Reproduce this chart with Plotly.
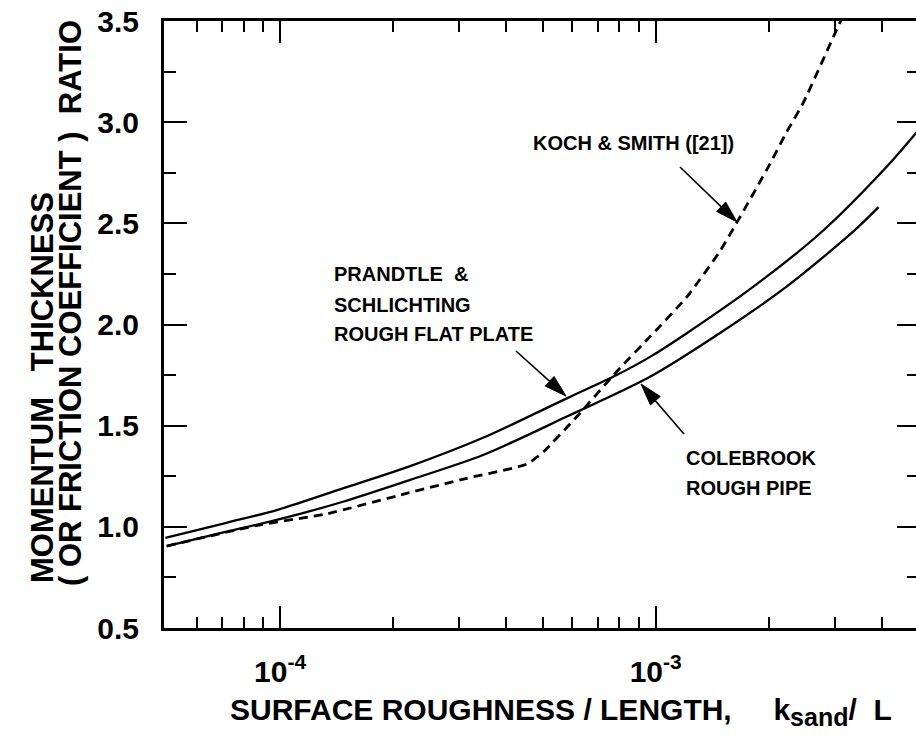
import math
import plotly.graph_objects as go

# ---------------- data ----------------
ps_x = [4.95e-5, 7.2e-5, 9.8e-5, 1.47e-4, 2.22e-4, 3.47e-4, 5.8e-4, 7.87e-4,
        9.66e-4, 1.21e-3, 1.82e-3, 2.74e-3, 4.12e-3, 5.0e-3]
ps_y = [0.945, 1.02, 1.083, 1.19, 1.30, 1.44, 1.635, 1.75,
        1.84, 1.957, 2.187, 2.451, 2.78, 2.96]

cb_x = [4.99e-5, 7.2e-5, 9.8e-5, 1.47e-4, 2.22e-4, 3.47e-4, 5.8e-4, 9.66e-4,
        1.48e-3, 2.23e-3, 3.36e-3, 3.92e-3]
cb_y = [0.905, 0.976, 1.034, 1.124, 1.232, 1.355, 1.545, 1.742,
        1.957, 2.187, 2.46, 2.58]

ks_x = [4.99e-5, 8.85e-5, 1.33e-4, 2.17e-4, 3.14e-4, 4.54e-4, 5.03e-4, 6.17e-4,
        7.87e-4, 9.66e-4, 1.21e-3, 1.48e-3, 1.64e-3, 2.01e-3, 2.23e-3, 2.47e-3,
        3.03e-3, 3.29e-3]
ks_y = [0.905, 1.01, 1.064, 1.165, 1.24, 1.31, 1.372, 1.545,
        1.767, 1.94, 2.136, 2.36, 2.50, 2.79, 2.95, 3.095,
        3.456, 3.6]

x_major = [1e-4, 1e-3]
x_major_text = ["10<sup>-4</sup>", "10<sup>-3</sup>"]
x_minor = [6e-5, 7e-5, 8e-5, 9e-5,
           2e-4, 3e-4, 4e-4, 5e-4, 6e-4, 7e-4, 8e-4, 9e-4,
           2e-3, 3e-3, 4e-3]
y_major = [0.5, 1.0, 1.5, 2.0, 2.5, 3.0, 3.5]
y_major_text = ["0.5", "1.0", "1.5", "2.0", "2.5", "3.0", "3.5"]
y_minor = [0.75, 1.25, 1.75, 2.25, 2.75, 3.25]

# ---------------- layout geometry ----------------
W, H = 916, 736
L_, R_, T_, B_ = 164, 916, 21, 628
FONT = "Liberation Sans, Arial, Helvetica, sans-serif"


def px(xp):
    return (xp - L_) / (R_ - L_)


def py(yp):
    return (B_ - yp) / (B_ - T_)


fig = go.Figure()
fig.add_trace(go.Scatter(x=ps_x, y=ps_y, mode="lines", line=dict(color="black", width=2.3, shape="spline", smoothing=0.8),
                         name="Prandtle & Schlichting", hoverinfo="skip"))
fig.add_trace(go.Scatter(x=cb_x, y=cb_y, mode="lines", line=dict(color="black", width=2.3, shape="spline", smoothing=0.8),
                         name="Colebrook", hoverinfo="skip"))
fig.add_trace(go.Scatter(x=ks_x, y=ks_y, mode="lines", line=dict(color="black", width=2.8, dash="9px,6px", shape="spline", smoothing=0.5),
                         name="Koch & Smith", hoverinfo="skip"))
# helper trace so the right-hand tick axis is drawn
fig.add_trace(go.Scatter(x=cb_x, y=cb_y, yaxis="y2", mode="lines", line=dict(width=0), opacity=0,
                         hoverinfo="skip", showlegend=False))

tickfont = dict(family=FONT, size=30, color="black", weight="bold")

fig.update_layout(
    width=W, height=H,
    margin=dict(l=L_, r=W - R_, t=T_, b=H - B_),
    plot_bgcolor="white", paper_bgcolor="white",
    showlegend=False,
    xaxis=dict(
        type="log", range=[-4.309, -2.307],
        showline=True, linewidth=3, linecolor="black", mirror="ticks",
        ticks="inside", ticklen=22, tickwidth=2, tickcolor="black",
        tickmode="array", tickvals=x_major, ticktext=x_major_text,
        tickfont=tickfont, ticklabelstandoff=15,
        showgrid=False, zeroline=False,
        minor=dict(tickmode="array", tickvals=x_minor, ticks="inside", ticklen=11,
                   tickwidth=2, tickcolor="black", showgrid=False),
    ),
    yaxis=dict(
        range=[0.5, 3.5],
        showline=True, linewidth=3, linecolor="black",
        ticks="inside", ticklen=23, tickwidth=2, tickcolor="black",
        tickmode="array", tickvals=y_major, ticktext=y_major_text,
        tickfont=tickfont, ticklabelstandoff=16,
        showgrid=False, zeroline=False,
        minor=dict(tickmode="array", tickvals=y_minor, ticks="inside", ticklen=12,
                   tickwidth=2, tickcolor="black", showgrid=False),
    ),
    yaxis2=dict(
        range=[0.5, 3.5], overlaying="y", side="right",
        showline=False, showticklabels=False,
        ticks="inside", ticklen=19, tickwidth=2, tickcolor="black",
        tickmode="array", tickvals=y_major,
        showgrid=False, zeroline=False,
        minor=dict(tickmode="array", tickvals=y_minor, ticks="inside", ticklen=9,
                   tickwidth=2, tickcolor="black", showgrid=False),
    ),
)

lab = dict(family=FONT, size=20, color="black", weight="bold")
anns = []
shapes = []


def text(x, y, s, font=lab, **kw):
    d = dict(x=px(x), y=py(y), xref="paper", yref="paper", text=s, showarrow=False,
             xanchor="left", yanchor="middle", font=font)
    d.update(kw)
    anns.append(d)


def arrow(tipx, tipy, tailx, taily, hl=22, hw=6.5):
    dx, dy = tipx - tailx, tipy - taily
    n = math.hypot(dx, dy)
    ux, uy = dx / n, dy / n
    bx, by = tipx - ux * hl, tipy - uy * hl
    nx, ny = -uy, ux
    shapes.append(dict(type="line", xref="paper", yref="paper",
                       x0=px(tailx), y0=py(taily), x1=px(bx + ux * 2), y1=py(by + uy * 2),
                       line=dict(color="black", width=1.6)))
    path = "M {:.5f},{:.5f} L {:.5f},{:.5f} L {:.5f},{:.5f} Z".format(
        px(tipx), py(tipy),
        px(bx + nx * hw), py(by + ny * hw),
        px(bx - nx * hw), py(by - ny * hw))
    shapes.append(dict(type="path", xref="paper", yref="paper", path=path,
                       fillcolor="black", line=dict(color="black", width=1)))


text(531, 143, "KOCH &amp; SMITH ([21])")
text(332, 274, "PRANDTLE  &amp;")
text(332, 305, "SCHLICHTING")
text(332, 334, "ROUGH FLAT PLATE")
text(684, 458, "COLEBROOK")
text(684, 488, "ROUGH PIPE")

arrow(737, 222, 680, 167)
arrow(566, 396, 516, 351)
arrow(641, 384, 684, 434)

# axis titles
title_font = dict(family=FONT, size=30, color="black", weight="bold")
text(228, 712,
     "SURFACE ROUGHNESS / LENGTH,\u00a0\u00a0\u00a0\u00a0\u00a0k"
     "<sub><span style='font-size:25px'>sand</span></sub>/\u00a0\u00a0L",
     font=title_font)
yt_font = dict(family=FONT, size=31, color="black", weight="bold")
anns.append(dict(x=px(42), y=py(388), xref="paper", yref="paper",
                 text="MOMENTUM\u00a0\u00a0\u00a0THICKNESS",
                 showarrow=False, textangle=-90, xanchor="center", yanchor="middle", font=yt_font))
anns.append(dict(x=px(70), y=py(303), xref="paper", yref="paper",
                 text="( OR FRICTION COEFFICIENT )\u00a0\u00a0RATIO",
                 showarrow=False, textangle=-90, xanchor="center", yanchor="middle", font=yt_font))

fig.update_layout(annotations=anns, shapes=shapes)
fig.write_html("out.html")
